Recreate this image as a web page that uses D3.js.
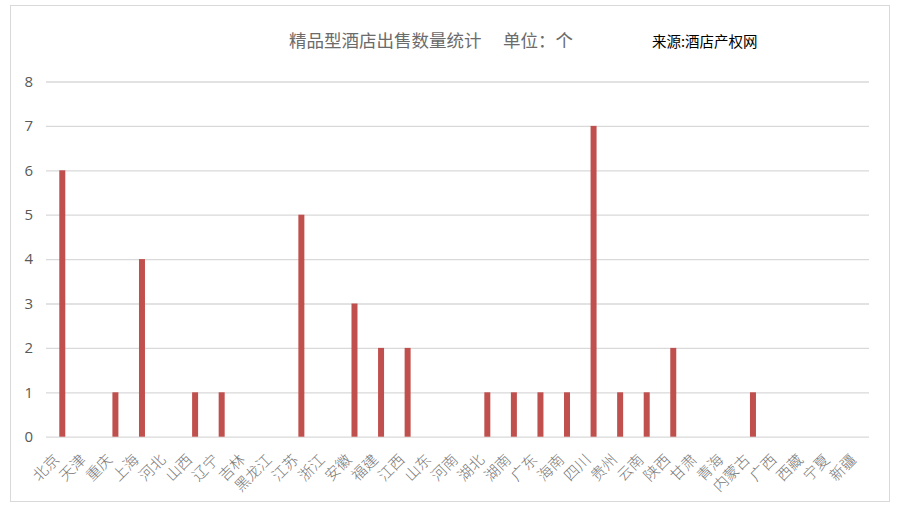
<!DOCTYPE html>
<html>
<head>
<meta charset="utf-8">
<script src="https://cdn.jsdelivr.net/npm/d3@7"></script>
<style>
    body { margin: 0; background: #fff; }
</style>
</head>
<body>
<div id="chart"></div>
<script>
const provinces = ['北京', '天津', '重庆', '上海', '河北', '山西', '辽宁', '吉林', '黑龙江', '江苏',
    '浙江', '安徽', '福建', '江西', '山东', '河南', '湖北', '湖南', '广东', '海南',
    '四川', '贵州', '云南', '陕西', '甘肃', '青海', '内蒙古', '广西', '西藏', '宁夏', '新疆'];
const hotelCounts = [6, 0, 1, 4, 0, 1, 1, 0, 0, 5,
    0, 3, 2, 2, 0, 0, 1, 1, 1, 1,
    7, 1, 1, 2, 0, 0, 1, 0, 0, 0, 0];
const yTicks = [0, 1, 2, 3, 4, 5, 6, 7, 8];
const titleText = '精品型酒店出售数量统计';
const unitText = '单位：个';
const sourceText = '来源:酒店产权网';

(function(){
    const fullWidth = 899;
    const fullHeight = 509;

    const margin = {
        top: 81.5,
        left: 49,
        bottom: 72.3,
        right: 26.5,
    }

    const width = fullWidth - margin.left - margin.right;
    const height = fullHeight - margin.top - margin.bottom;

    const svg = d3.select('#chart')
        .append('svg')
            .attr('width', fullWidth)
            .attr('height', fullHeight)
            .style('display', 'block');

    // outer frame
    svg.append('rect')
        .attr('x', 10.5)
        .attr('y', 5.5)
        .attr('width', 879)
        .attr('height', 496)
        .style('fill', '#fff')
        .style('stroke', '#d9d9d9');

    svg.append('text')
        .attr('x', 289)
        .attr('y', 47)
        .style('font-family', '"Noto Sans CJK SC", sans-serif')
        .style('font-size', '17.5px')
        .style('fill', '#6b6b6b')
        .text(titleText);

    svg.append('text')
        .attr('x', 503)
        .attr('y', 47)
        .style('font-family', '"Noto Sans CJK SC", sans-serif')
        .style('font-size', '17.5px')
        .style('fill', '#6b6b6b')
        .text(unitText);

    svg.append('text')
        .attr('x', 652)
        .attr('y', 47)
        .style('font-family', '"Noto Sans CJK SC", sans-serif')
        .style('font-size', '14.5px')
        .style('fill', '#000')
        .text(sourceText);

    const g = svg.append('g')
        .attr('transform', `translate(${margin.left}, ${margin.top})`);

    const xScale = d3.scaleBand()
        .domain(provinces)
        .range([0, width]);

    const yScale = d3.scaleLinear()
        .domain([0, 8])
        .range([height, 0]);

    // gridlines + y labels
    const yAxis = d3.axisLeft(yScale)
        .tickValues(yTicks)
        .tickSize(-823)
        .tickPadding(13);

    g.append('g')
            .attr('transform', 'translate(-3, 0)')
        .call(yAxis)
        .call(ax => ax.select('.domain').remove())
        .call(ax => ax.selectAll('line').style('stroke', '#d9d9d9').style('stroke-width', 1.3))
        .call(ax => ax.selectAll('text')
            .style('font-family', '"Open Sans", sans-serif')
            .style('font-size', '15px')
            .style('fill', '#595959'));

    g.selectAll('.bar')
        .data(hotelCounts)
        .enter()
        .append('rect')
            .attr('class', 'bar')
            .attr('x', (d, i) => xScale(provinces[i]) + xScale.bandwidth() / 2 - 3)
            .attr('y', d => yScale(d))
            .attr('width', 6)
            .attr('height', d => height - yScale(d))
            .style('fill', '#c0504d');

    // category labels, slanted 45 degrees
    const xAxisG = g.append('g')
        .attr('transform', `translate(0, ${height})`);

    xAxisG.selectAll('.xlabel')
        .data(provinces)
        .enter()
        .append('text')
            .attr('class', 'xlabel')
            .attr('transform', d => `translate(${xScale(d) + xScale.bandwidth() / 2 - 2}, 24) rotate(-45)`)
            .attr('text-anchor', 'end')
            .style('font-family', '"Noto Sans CJK SC", serif')
            .style('font-size', '15px')
            .style('font-weight', 300)
            .style('fill', '#777')
            .text(d => d);
}())
</script>
</body>
</html>
